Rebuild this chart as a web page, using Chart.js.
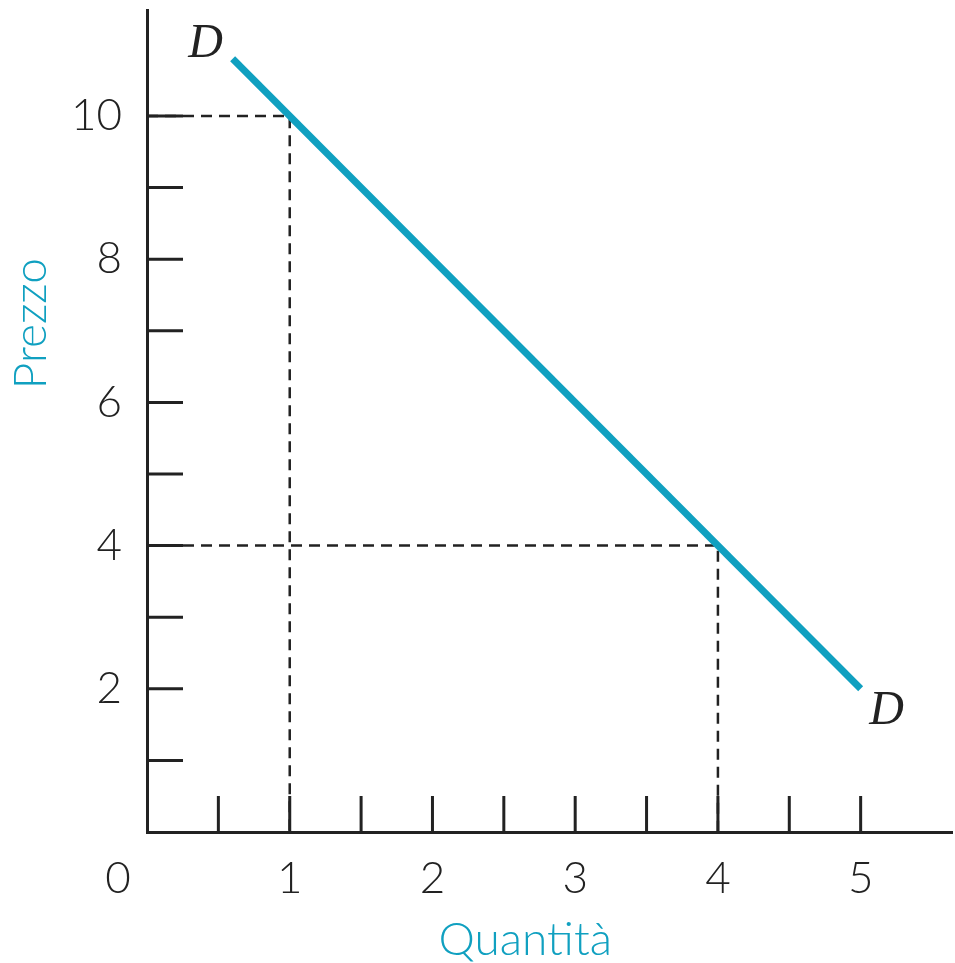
<!DOCTYPE html>
<html>
<head>
<meta charset="utf-8">
<script src="https://cdn.jsdelivr.net/npm/chart.js@4.4.0/dist/chart.umd.min.js"></script>
<style>
  html, body { margin: 0; padding: 0; background: #fff; }
  #wrap { width: 955px; height: 963px; position: relative; }
</style>
</head>
<body>
<div id="wrap"><canvas id="myChart"></canvas></div>
<script>
// demand curve D-D
const demandQ = [0.6, 5];
const demandP = [10.8, 2];
// dashed guides
const guide1Q = [0, 1, 1];
const guide1P = [10, 10, 0];
const guide2Q = [0, 4, 4];
const guide2P = [4, 4, 0];
// axes
const xTickLabels = [1, 2, 3, 4, 5];
const yTickLabels = [2, 4, 6, 8, 10];
const xMarks = [0.5, 1, 1.5, 2, 2.5, 3, 3.5, 4, 4.5, 5];
const yMarks = [1, 2, 3, 4, 5, 6, 7, 8, 9, 10];

const teal = 'rgb(16,160,192)';
const ink = '#222';

function toPoints(qs, ps) {
    return qs.map((q, i) => ({ x: q, y: ps[i] }));
}

// inward tick marks, axis names, the "0" at the origin and the D labels
const extras = {
    id: 'extras',
    beforeDatasetsDraw(chart) {
        const ctx = chart.ctx;
        const xs = chart.scales.x, ys = chart.scales.y;
        const x0 = xs.getPixelForValue(0), y0 = ys.getPixelForValue(0);
        ctx.save();
        ctx.strokeStyle = ink;
        ctx.lineWidth = 3;
        ctx.beginPath();
        xMarks.forEach(v => {
            const px = xs.getPixelForValue(v);
            ctx.moveTo(px, y0);
            ctx.lineTo(px, y0 - 36);
        });
        yMarks.forEach(v => {
            const py = ys.getPixelForValue(v);
            ctx.moveTo(x0, py);
            ctx.lineTo(x0 + 36, py);
        });
        ctx.stroke();
        ctx.restore();
    },
    afterDraw(chart) {
        const ctx = chart.ctx;
        const xs = chart.scales.x, ys = chart.scales.y;
        const x0 = xs.getPixelForValue(0), y0 = ys.getPixelForValue(0);
        ctx.save();
        ctx.textAlign = 'center';
        ctx.textBaseline = 'middle';
        ctx.fillStyle = ink;
        ctx.font = '300 44px Lato';
        ctx.fillText('0', x0 - 29, y0 + 47);
        ctx.fillStyle = teal;
        ctx.font = '300 46px Lato';
        ctx.fillText('Quantità', xs.getPixelForValue(2.65), y0 + 108);
        ctx.save();
        ctx.translate(31, ys.getPixelForValue(7.1));
        ctx.rotate(-Math.PI / 2);
        ctx.fillText('Prezzo', 0, 0);
        ctx.restore();
        ctx.fillStyle = ink;
        ctx.font = 'italic 48px "Liberation Serif"';
        ctx.fillText('D', xs.getPixelForValue(demandQ[0]) - 27, ys.getPixelForValue(demandP[0]) - 14);
        ctx.fillText('D', xs.getPixelForValue(demandQ[1]) + 26, ys.getPixelForValue(demandP[1]) + 23);
        ctx.restore();
    }
};

const myChart = new Chart(document.querySelector('#myChart'), {
    type: 'scatter',
    data: {
        datasets: [
            {
                data: toPoints(demandQ, demandP),
                showLine: true,
                borderColor: teal,
                borderWidth: 7,
                pointRadius: 0,
                order: 0
            },
            {
                data: toPoints(guide1Q, guide1P),
                showLine: true,
                borderColor: ink,
                borderWidth: 2.5,
                borderDash: [11, 7],
                pointRadius: 0,
                order: 1
            },
            {
                data: toPoints(guide2Q, guide2P),
                showLine: true,
                borderColor: ink,
                borderWidth: 2.5,
                borderDash: [11, 7],
                pointRadius: 0,
                order: 1
            }
        ]
    },
    options: {
        responsive: true,
        maintainAspectRatio: false,
        animation: false,
        layout: { padding: { top: 10, right: 3, left: 0, bottom: 0 } },
        plugins: { legend: { display: false }, tooltip: { enabled: false } },
        scales: {
            x: {
                type: 'linear',
                min: 0,
                max: 5.64,
                grid: { display: false },
                border: { display: true, color: ink, width: 3 },
                afterBuildTicks: s => { s.ticks = xTickLabels.map(v => ({ value: v })); },
                afterFit: s => { s.height = 131; s.paddingLeft = 0; s.paddingRight = 0; },
                ticks: {
                    color: ink,
                    padding: 12,
                    maxRotation: 0,
                    autoSkip: false,
                    font: { family: 'Lato', size: 44, weight: 300 }
                }
            },
            y: {
                type: 'linear',
                min: 0,
                max: 11.48,
                grid: { display: false },
                border: { display: true, color: ink, width: 3 },
                afterBuildTicks: s => { s.ticks = yTickLabels.map(v => ({ value: v })); },
                afterFit: s => { s.width = 147; s.paddingTop = 0; s.paddingBottom = 0; },
                ticks: {
                    color: ink,
                    padding: 17,
                    autoSkip: false,
                    font: { family: 'Lato', size: 44, weight: 300 }
                }
            }
        }
    },
    plugins: [extras]
});
</script>
</body>
</html>
